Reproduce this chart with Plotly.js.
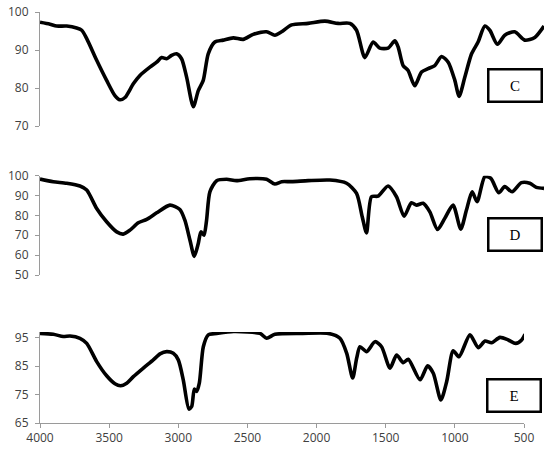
<!DOCTYPE html>
<html>
<head>
<meta charset="utf-8">
<script src="https://cdn.plot.ly/plotly-3.0.1.min.js"></script>
<style>html,body{margin:0;padding:0;background:#fff;}#chart{width:550px;height:451px;}</style>
</head>
<body>
<div id="chart"></div>
<script>
// Panel C
const wnC = [4000,3928,3880,3807,3735,3698,3662,3590,3518,3458,3422,3385,3325,3277,3205,3156,3120,3084,3048,3012,2976,2939,2891,2855,2819,2783,2735,2675,2602,2530,2458,2361,2301,2252,2180,2060,1939,1843,1758,1710,1650,1590,1542,1482,1433,1409,1373,1337,1289,1240,1192,1144,1095,1047,999,968,927,878,831,782,746,691,638,566,493,421,354];
const tC = [97.3,96.8,96.3,96.3,95.8,95.2,93.0,87.3,82.0,78.0,76.9,77.5,81.1,83.3,85.5,86.8,88.0,87.7,88.6,89.0,87.7,82.8,75.1,79.3,82.0,89.0,92.1,92.6,93.2,92.8,94.1,94.8,93.9,94.8,96.6,97.0,97.6,97.0,97.0,95.2,88.0,92.1,90.5,90.5,92.4,90.8,85.9,84.6,80.6,84.2,85.1,85.9,88.3,86.8,82.0,77.8,82.8,89.0,92.1,96.3,95.2,91.5,93.9,94.8,92.6,93.3,96.3];
// Panel D
const wnD = [4000,3904,3807,3711,3662,3590,3518,3445,3398,3349,3289,3228,3156,3060,2988,2952,2915,2884,2855,2836,2814,2795,2771,2722,2650,2578,2482,2361,2301,2252,2180,2060,1903,1782,1710,1669,1638,1602,1554,1482,1421,1366,1313,1276,1228,1180,1124,1072,1012,956,915,874,838,782,739,681,638,585,517,457,409,354];
const tD = [98.3,97.0,96.2,94.8,92.8,83.5,76.8,71.7,70.6,72.6,76.3,78.0,81.3,85.2,83.0,77.6,67.5,59.4,65.9,71.7,70.0,77.6,91.9,97.5,98.2,97.5,98.5,98.2,95.8,97.0,97.0,97.5,97.8,96.2,91.1,79.3,71.2,89.4,89.7,94.8,89.4,79.6,86.4,85.2,86.1,81.8,72.9,78.5,85.2,73.1,82.7,91.9,86.9,99.5,98.7,91.4,94.5,91.9,96.5,96.2,94.1,93.6];
// Panel E
const wnE = [4000,3904,3832,3783,3711,3662,3590,3518,3458,3417,3373,3325,3253,3181,3132,3084,3036,3000,2964,2923,2903,2884,2867,2848,2819,2783,2722,2600,2409,2361,2301,2100,1915,1831,1782,1739,1710,1686,1638,1578,1530,1469,1421,1373,1337,1252,1197,1156,1101,1059,1012,970,891,831,782,734,674,614,560,517,493];
const tE = [96.5,96.2,95.4,95.6,94.8,93.0,86.6,81.6,78.8,78.1,79.0,81.3,84.3,87.2,89.3,90.1,89.5,87.2,80.2,69.9,70.8,76.9,76.1,79.0,91.8,96.0,96.5,97.2,96.5,94.8,96.2,96.5,96.5,94.8,89.5,80.8,87.8,91.8,90.1,93.6,91.8,84.3,88.9,86.2,87.4,80.2,85.1,82.5,73.1,79.6,90.4,88.3,96.0,91.5,93.8,93.2,95.1,94.2,93.0,94.2,96.2];

const xTicks = [4000,3500,3000,2500,2000,1500,1000,500];
const yTicksC = [70,80,90,100];
const yTicksD = [50,60,70,80,90,100];
const yTicksE = [65,75,85,95];
const panelLabels = ['C','D','E'];

const lineStyle = {color:'#000', width:3.6, shape:'spline', smoothing:0.7};
const traces = [
  {x:wnC, y:tC, xaxis:'x2', yaxis:'y3', mode:'lines', line:lineStyle, hoverinfo:'skip'},
  {x:wnD, y:tD, xaxis:'x3', yaxis:'y2', mode:'lines', line:lineStyle, hoverinfo:'skip'},
  {x:wnE, y:tE, xaxis:'x', yaxis:'y', mode:'lines', line:lineStyle, hoverinfo:'skip'}
];

const tickFont = {family:'Open Sans, Liberation Sans, sans-serif', size:12, color:'#404040'};
const yBase = {showgrid:false, zeroline:false, showline:true, linecolor:'#9a9a9a', linewidth:1,
  ticks:'outside', ticklen:4, tickcolor:'#9a9a9a', tickfont:tickFont, tickmode:'array', ticklabelstandoff:4, fixedrange:true};

const L = 40, R = 6, T = 10, B = 28, H = 451, W = 550;
const pw = W - L - R, ph = H - T - B;
const py = v => (H - B - v) / ph;
const px = v => (v - L) / pw;

const layout = {
  width:W, height:H,
  margin:{l:L, r:R, t:T, b:B},
  paper_bgcolor:'#fff', plot_bgcolor:'rgba(0,0,0,0)',
  showlegend:false,
  xaxis:{domain:[0, px(524)], range:[4000,500], anchor:'y', showgrid:false, zeroline:false,
    showline:true, linecolor:'#9a9a9a', ticks:'outside', ticklen:4, tickcolor:'#9a9a9a',
    tickmode:'array', tickvals:xTicks, ticktext:xTicks.map(String), tickfont:tickFont, fixedrange:true},
  xaxis2:{domain:[0,1], range:[4000,354], anchor:'y3', visible:false, fixedrange:true},
  xaxis3:{domain:[0,1], range:[4000,354], anchor:'y2', visible:false, fixedrange:true},
  yaxis:Object.assign({}, yBase, {domain:[0, py(332)], range:[65,97], anchor:'x', tickvals:yTicksE, ticktext:yTicksE.map(String)}),
  yaxis2:Object.assign({}, yBase, {domain:[py(275), py(175.7)], range:[50,100], anchor:'x3', tickvals:yTicksD, ticktext:yTicksD.map(String)}),
  yaxis3:Object.assign({}, yBase, {domain:[py(126), py(12)], range:[70,100], anchor:'x2', tickvals:yTicksC, ticktext:yTicksC.map(String)}),
  annotations:[
    {cx:514.5, cy:85.5},
    {cx:514.5, cy:234},
    {cx:513.5, cy:395}
  ].map((p,i)=>({
    xref:'paper', yref:'paper', x:px(p.cx), y:py(p.cy), xanchor:'center', yanchor:'middle',
    text:panelLabels[i], showarrow:false, font:{family:'Liberation Serif, Times New Roman, serif', size:15, color:'#000'},
    bordercolor:'#000', borderwidth:2.5, borderpad:0, width:51, height:30, bgcolor:'#fff'
  }))
};

Plotly.newPlot('chart', traces, layout, {displayModeBar:false, staticPlot:true});
</script>
</body>
</html>
